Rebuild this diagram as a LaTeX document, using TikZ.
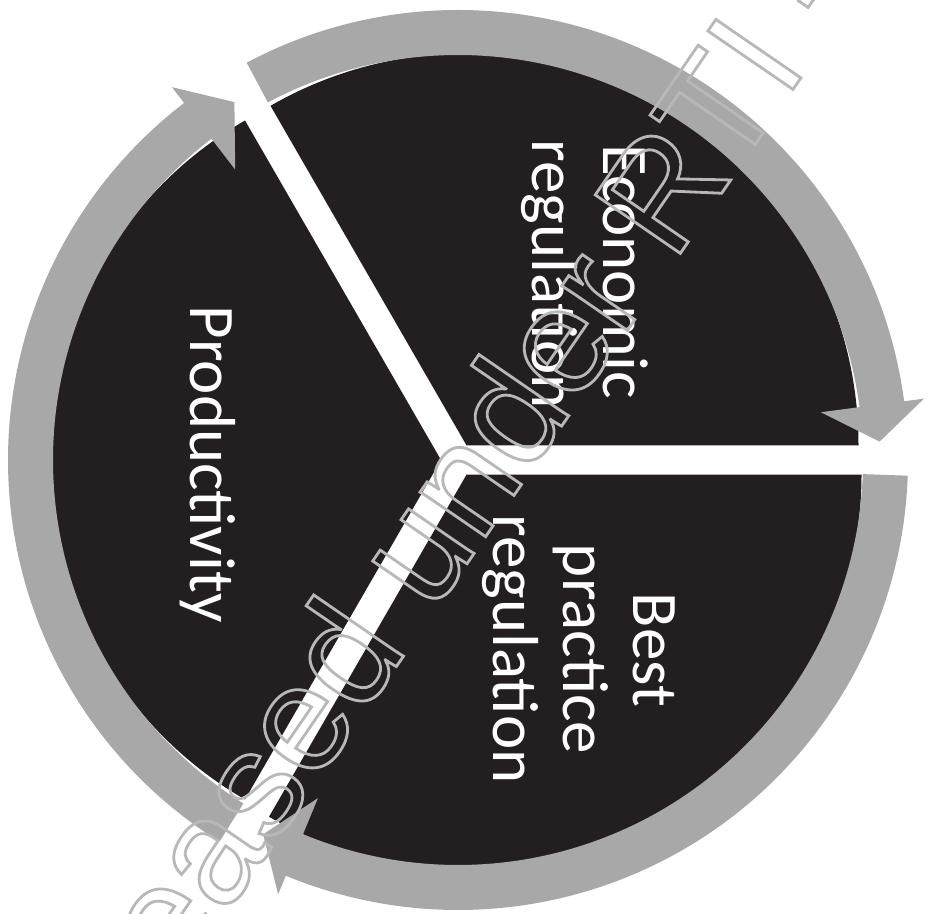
\documentclass[tikz,border=0pt]{standalone}
\usepackage{fontspec}
\newfontfamily\labelfont{Carlito}
\newfontfamily\wmfont{Liberation Sans}
\definecolor{sectordark}{RGB}{35,31,32}
\definecolor{ringgray}{RGB}{168,168,168}
\begin{document}
\begin{tikzpicture}[x=1pt,y=1pt,
  sector/.style={fill=sectordark},
  ringarrow/.style={fill=ringgray},
  lbl/.style={text=white, font=\labelfont\fontsize{65}{71}\selectfont, inner sep=0pt, rotate=-90, anchor=base},
  watermark/.style={inner sep=0pt, anchor=base west, rotate=55.5, font=\wmfont\fontsize{150}{150}\selectfont}]
\useasboundingbox (0,0) rectangle (934,913);
\fill[white] (0,0) rectangle (934,913);
\coordinate (C) at (458,453);
\coordinate (EC) at (466.5,467.7);
\coordinate (BC) at (466.5,438.3);
\coordinate (PC) at (441,453);
% sectors
\fill[sector] (EC) -- ++(0:392pt) arc[start angle=0,end angle=120,radius=392pt] -- cycle;
\fill[sector] (BC) -- ++(-120:395pt) arc[start angle=-120,end angle=0,radius=395pt] -- cycle;
\fill[sector] (PC) -- ++(120:392pt) arc[start angle=120,end angle=240,radius=392pt] -- cycle;
% circular arrows
\fill[ringarrow, shift={(C)}] (118:450pt) arc[start angle=118,end angle=7.5,radius=450pt]
  -- (7.5:470pt) -- (2.5:422pt) -- (7.5:366pt) -- (7.5:405pt)
  arc[start angle=7.5,end angle=118,radius=405pt] -- cycle;
\fill[ringarrow, shift={(C)}] (238:450pt) arc[start angle=238,end angle=127.5,radius=450pt]
  -- (127.5:470pt) -- (122:422pt) -- (127.5:366pt) -- (127.5:405pt)
  arc[start angle=127.5,end angle=238,radius=405pt] -- cycle;
\fill[ringarrow, shift={(C)}] (358:450pt) arc[start angle=358,end angle=247.5,radius=450pt]
  -- (247.5:470pt) -- (242.5:422pt) -- (247.5:366pt) -- (247.5:405pt)
  arc[start angle=247.5,end angle=358,radius=405pt] -- cycle;
% labels
\node[lbl] (econ1) at (603,641) {Economic};
\node[lbl] (econ2) at (532,639) {regulation};
\node[lbl] (best1) at (633,263) {Best};
\node[lbl] (best2) at (563,264) {practice};
\node[lbl] (best3) at (493,264) {regulation};
\node[lbl] (prod) at (190,449) {Productivity};
% watermark
\begin{scope}
\clip (0,0) rectangle (934,913);
\node[watermark] (wm) at (50,-257.5) {\special{pdf:literal direct 1 Tr 2.8 w 0.72 0.72 0.72 RG}Released under RTI -\special{pdf:literal direct 0 Tr}};
\end{scope}
\end{tikzpicture}
\end{document}
